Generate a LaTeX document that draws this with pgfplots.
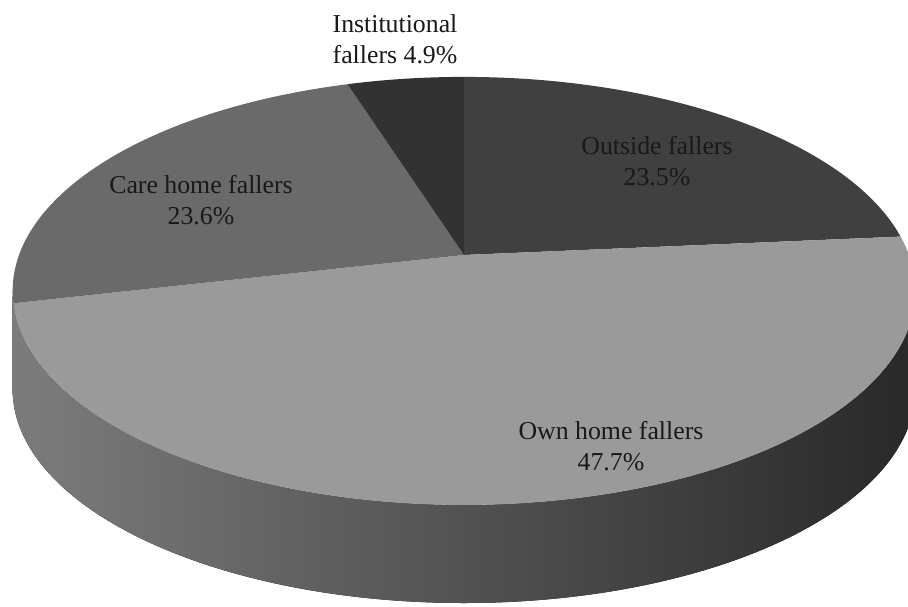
\documentclass[border=0pt]{standalone}
\usepackage{pgfplots}
\pgfplotsset{compat=1.18}
\usepackage{pgfplotstable}
\usepackage{fontspec}
\setmainfont{Liberation Serif}

\definecolor{cOut}{RGB}{64,64,64}
\definecolor{cOwn}{RGB}{154,154,154}
\definecolor{cCare}{RGB}{106,106,106}
\definecolor{cInst}{RGB}{50,50,50}
\definecolor{sideL}{RGB}{124,124,124}
\definecolor{sideM}{RGB}{72,72,72}
\definecolor{sideR}{RGB}{40,40,40}

% slices clockwise from 12 o'clock
\pgfplotstableread{
name pct col
Outside 23.5 cOut
Own 47.7 cOwn
Care 23.6 cCare
Institutional 4.9 cInst
}\piedata

% perspective geometry (pixel units, y up)
\def\piePcx{464}\def\piePcy{351}% projected centre (apex)
\def\piePA{445}\def\piePB{208}\def\piePk{0.168}
\def\pieEcx{464}\def\pieEcy{315}% ellipse centre
\def\pieEa{451.4}\def\pieEb{214.0}\def\pieEoff{35.96}
\def\pieDepth{98}
\def\pieUnit{0.5}

\newcommand\piepoint[1]{%
  \pgfmathsetmacro\pieU{sin(#1)}%
  \pgfmathsetmacro\pieV{cos(#1)}%
  \pgfmathsetmacro\pieW{1+\piePk*\pieV}%
  \pgfmathsetmacro\pieX{\piePcx+\piePA*\pieU/\pieW}%
  \pgfmathsetmacro\pieY{\piePcy+\piePB*\pieV/\pieW}%
  \pgfmathsetmacro\pieT{atan2((\piePB*\pieV/\pieW+\pieEoff)/\pieEb,(\piePA*\pieU/\pieW)/\pieEa)}%
}

\begin{document}
\begin{tikzpicture}
\begin{axis}[
  x=0.5pt, y=0.5pt,
  xmin=0, xmax=908, ymin=0, ymax=606,
  hide axis, clip=true,
]
\pgfplotsextra{%
  \pgfmathsetmacro\pieRx{\pieEa*\pieUnit}%
  \pgfmathsetmacro\pieRy{\pieEb*\pieUnit}%
  \pgfmathsetmacro\pieXl{\pieEcx-\pieEa}%
  \pgfmathsetmacro\pieXr{\pieEcx+\pieEa}%
  \pgfmathsetmacro\pieYb{\pieEcy-\pieDepth}%
  % side of the disc
  \fill[left color=sideL, middle color=sideM, right color=sideR]
    (axis cs:\pieXl,\pieEcy) -- (axis cs:\pieXl,\pieYb)
    arc[start angle=180, end angle=360, x radius=\pieRx pt, y radius=\pieRy pt]
    -- (axis cs:\pieXr,\pieEcy)
    arc[start angle=0, end angle=-180, x radius=\pieRx pt, y radius=\pieRy pt] -- cycle;
  % total
  \pgfplotstablegetrowsof{\piedata}%
  \pgfmathtruncatemacro\pieN{\pgfplotsretval-1}%
  \gdef\pietotal{0}%
  \foreach \i in {0,...,\pieN}{%
    \pgfplotstablegetelem{\i}{pct}\of\piedata
    \pgfmathsetmacro\pieTmp{\pietotal+\pgfplotsretval}%
    \xdef\pietotal{\pieTmp}%
  }%
  \gdef\piecum{0}%
  \foreach \i in {0,...,\pieN}{%
    \pgfplotstablegetelem{\i}{pct}\of\piedata \let\thispct\pgfplotsretval
    \pgfplotstablegetelem{\i}{col}\of\piedata \let\thiscol\pgfplotsretval
    \pgfmathsetmacro\phia{360*(\piecum/\pietotal)}%
    \pgfmathsetmacro\newcum{\piecum+\thispct}%
    \xdef\piecum{\newcum}%
    \pgfmathsetmacro\phib{360*(\piecum/\pietotal)}%
    \piepoint{\phia}\let\pxa\pieX \let\pya\pieY \let\pta\pieT
    \piepoint{\phib}\let\ptb\pieT
    \pgfmathsetmacro\ptend{\pta-mod(\pta-\ptb+720,360)}%
    \fill[color=\thiscol] (axis cs:\piePcx,\piePcy) -- (axis cs:\pxa,\pya)
      arc[start angle=\pta, end angle=\ptend, x radius=\pieRx pt, y radius=\pieRy pt] -- cycle;
  }%
}
\begin{scope}[every node/.style={align=center, text=black!90, font=\fontsize{12.9pt}{15.5pt}\selectfont}]
\node at (axis cs:395,567) {Institutional\\fallers 4.9\%};
\node at (axis cs:201,406) {Care home fallers\\23.6\%};
\node at (axis cs:657,445) {Outside fallers\\23.5\%};
\node at (axis cs:611,160) {Own home fallers\\47.7\%};
\end{scope}
\end{axis}
\pgfresetboundingbox
\useasboundingbox (current axis.south west) rectangle (current axis.north east);
\end{tikzpicture}
\end{document}
